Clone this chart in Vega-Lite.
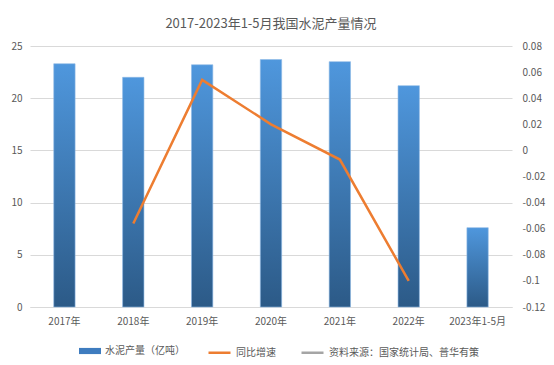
{
  "$schema": "https://vega.github.io/schema/vega-lite/v6.json",
  "width": 482,
  "height": 261,
  "autosize": {"type": "none"},
  "padding": {"left": 30, "top": 46, "right": 42, "bottom": 58},
  "background": "white",
  "title": {
    "text": "2017-2023年1-5月我国水泥产量情况",
    "font": "Noto Sans CJK SC",
    "fontSize": 13,
    "fontWeight": "normal",
    "color": "#595959",
    "anchor": "middle",
    "offset": 10
  },
  "data": {
    "values": [
      {"year": "2017年", "output": 23.3, "growth": null},
      {"year": "2018年", "output": 22.0, "growth": -0.056},
      {"year": "2019年", "output": 23.2, "growth": 0.054},
      {"year": "2020年", "output": 23.7, "growth": 0.020},
      {"year": "2021年", "output": 23.5, "growth": -0.007},
      {"year": "2022年", "output": 21.2, "growth": -0.100},
      {"year": "2023年1-5月", "output": 7.6, "growth": null}
    ]
  },
  "encoding": {
    "x": {
      "field": "year",
      "type": "nominal",
      "sort": null,
      "scale": {"paddingInner": 0.69, "paddingOuter": 0.345},
      "axis": {
        "title": null,
        "labelAngle": 0,
        "ticks": false,
        "domain": true,
        "domainColor": "#D9D9D9",
        "labelColor": "#595959",
        "labelFont": "Noto Sans CJK SC",
        "labelFontSize": 10,
        "labelPadding": 9
      }
    }
  },
  "layer": [
    {
      "mark": {
        "type": "bar",
        "fill": {
          "gradient": "linear",
          "x1": 0, "y1": 0, "x2": 0, "y2": 1,
          "stops": [
            {"offset": 0, "color": "#4F97DD"},
            {"offset": 1, "color": "#2C5A87"}
          ]
        },
        "stroke": "#8DB9E6",
        "strokeWidth": 0.6
      },
      "encoding": {
        "y": {
          "field": "output",
          "type": "quantitative",
          "scale": {"domain": [0, 25], "nice": false},
          "axis": {
            "title": null,
            "values": [0, 5, 10, 15, 20, 25],
            "ticks": false,
            "domain": false,
            "grid": true,
            "gridColor": "#D9D9D9",
            "labelColor": "#595959",
            "labelFont": "Noto Sans CJK SC",
            "labelFontSize": 10,
            "labelPadding": 8
          }
        }
      }
    },
    {
      "mark": {"type": "point", "opacity": 0, "filled": true},
      "encoding": {
        "fill": {
          "datum": "水泥产量（亿吨）",
          "type": "nominal",
          "scale": {"domain": ["水泥产量（亿吨）"], "range": ["#3E7CBF"]},
          "legend": {
            "orient": "none",
            "legendX": 49,
            "legendY": 294,
            "title": null,
            "labelFont": "Noto Sans CJK SC",
            "labelFontSize": 10,
            "labelColor": "#595959",
            "labelLimit": 300,
            "symbolType": "M-1,-0.28H1V0.28H-1Z",
            "symbolSize": 484,
            "symbolOpacity": 1,
            "symbolStrokeWidth": 0
          }
        }
      }
    },
    {
      "transform": [{"filter": "datum.growth != null"}],
      "mark": {"type": "line", "strokeWidth": 2.5},
      "encoding": {
        "y": {
          "field": "growth",
          "type": "quantitative",
          "scale": {"domain": [-0.12, 0.08], "nice": false, "zero": false},
          "axis": {
            "title": null,
            "orient": "right",
            "values": [-0.12, -0.1, -0.08, -0.06, -0.04, -0.02, 0, 0.02, 0.04, 0.06, 0.08],
            "labelExpr": "toString(datum.value)",
            "ticks": false,
            "domain": false,
            "grid": false,
            "labelColor": "#595959",
            "labelFont": "Noto Sans CJK SC",
            "labelFontSize": 10,
            "labelPadding": 10
          }
        },
        "stroke": {
          "datum": "同比增速",
          "type": "nominal",
          "scale": {
            "domain": ["同比增速", "资料来源：国家统计局、普华有策"],
            "range": ["#ED7D31", "#A5A5A5"]
          },
          "legend": {
            "orient": "none",
            "legendX": 177,
            "legendY": 294,
            "direction": "horizontal",
            "columns": 2,
            "columnPadding": 20,
            "title": null,
            "labelFont": "Noto Sans CJK SC",
            "labelFontSize": 10,
            "labelColor": "#595959",
            "labelLimit": 300,
            "symbolType": "stroke",
            "symbolSize": 484,
            "symbolStrokeWidth": 2.5
          }
        }
      }
    }
  ],
  "resolve": {"scale": {"y": "independent"}},
  "config": {"view": {"stroke": null}}
}
